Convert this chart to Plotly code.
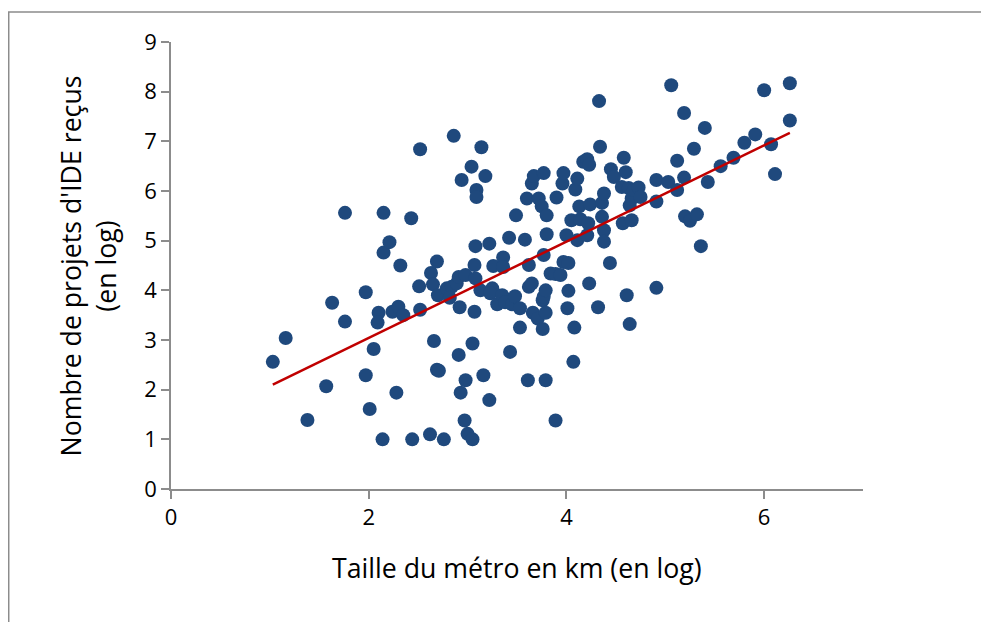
import numpy as np
import plotly.graph_objects as go

# Data
taille_metro = [
    1.03, 1.16, 1.38, 1.57, 1.63, 1.76, 1.76, 1.97, 1.97, 2.01,
    2.05, 2.10, 2.09, 2.14, 2.15, 2.15, 2.21, 2.28, 2.24, 2.30,
    2.35, 2.32, 2.43, 2.52, 2.51, 2.52, 2.44, 2.62, 2.63, 2.65,
    2.69, 2.70, 2.66, 2.69, 2.71, 2.76, 2.79, 2.84, 2.82, 2.86,
    2.89, 2.91, 2.92, 2.91, 2.93, 2.94, 2.97, 2.98, 2.98, 3.00,
    3.04, 3.05, 3.05, 3.07, 3.07, 3.08, 3.08, 3.09, 3.09, 3.13,
    3.14, 3.16, 3.18, 3.22, 3.22, 3.25, 3.23, 3.26, 3.30, 3.35,
    3.36, 3.36, 3.38, 3.42, 3.43, 3.45, 3.48, 3.49, 3.53, 3.53,
    3.58, 3.60, 3.61, 3.62, 3.62, 3.65, 3.65, 3.66, 3.67, 3.71,
    3.72, 3.75, 3.76, 3.76, 3.77, 3.77, 3.77, 3.79, 3.79, 3.79,
    3.80, 3.80, 3.84, 3.89, 3.89, 3.90, 3.94, 3.96, 3.97, 3.97,
    4.00, 4.01, 4.02, 4.02, 4.05, 4.07, 4.08, 4.09, 4.11, 4.11,
    4.13, 4.14, 4.17, 4.21, 4.23, 4.21, 4.22, 4.23, 4.24, 4.32,
    4.33, 4.34, 4.36, 4.36, 4.38, 4.38, 4.38, 4.44, 4.45, 4.48,
    4.56, 4.57, 4.58, 4.60, 4.61, 4.63, 4.64, 4.64, 4.66, 4.66,
    4.68, 4.73, 4.75, 4.91, 4.91, 4.91, 5.03, 5.06, 5.12, 5.12,
    5.19, 5.19, 5.20, 5.25, 5.29, 5.32, 5.36, 5.40, 5.43, 5.56,
    5.69, 5.80, 5.91, 6.00, 6.07, 6.11, 6.26, 6.26,
]
projets_ide = [
    2.56, 3.04, 1.39, 2.07, 3.75, 3.37, 5.56, 3.96, 2.29, 1.61,
    2.82, 3.55, 3.35, 1.00, 5.56, 4.76, 4.97, 1.94, 3.57, 3.67,
    3.50, 4.50, 5.45, 6.84, 4.08, 3.61, 1.00, 1.10, 4.35, 4.12,
    4.58, 3.90, 2.98, 2.40, 2.38, 1.00, 4.04, 4.07, 3.85, 7.11,
    4.14, 4.27, 3.66, 2.70, 1.94, 6.22, 1.38, 4.31, 2.19, 1.11,
    6.49, 2.93, 1.00, 3.57, 4.51, 4.24, 4.89, 6.02, 5.88, 4.00,
    6.88, 2.29, 6.30, 4.94, 1.79, 4.04, 3.94, 4.49, 3.72, 3.90,
    4.66, 4.47, 3.76, 5.06, 2.76, 3.72, 3.88, 5.51, 3.64, 3.25,
    5.02, 5.85, 2.19, 4.51, 4.07, 4.14, 6.15, 3.55, 6.30, 3.43,
    5.85, 5.69, 3.80, 3.22, 6.36, 4.71, 3.87, 4.00, 3.55, 2.19,
    5.51, 5.13, 4.34, 4.33, 1.38, 5.87, 4.31, 6.15, 6.36, 4.57,
    5.11, 3.64, 4.55, 3.99, 5.41, 2.56, 3.25, 6.03, 6.25, 5.01,
    5.69, 5.43, 6.59, 6.64, 6.53, 5.11, 5.35, 4.14, 5.73, 3.66,
    7.81, 6.89, 5.76, 5.48, 5.95, 5.21, 4.98, 4.55, 6.44, 6.28,
    6.08, 5.35, 6.67, 6.38, 3.90, 6.06, 5.71, 3.32, 5.85, 5.41,
    6.02, 6.07, 5.88, 6.22, 5.79, 4.05, 6.18, 8.13, 6.61, 6.02,
    7.57, 6.27, 5.49, 5.40, 6.85, 5.53, 4.89, 7.27, 6.18, 6.50,
    6.67, 6.97, 7.14, 8.03, 6.94, 6.34, 8.17, 7.42,
]
x_ticks = [0, 2, 4, 6]
y_ticks = [0, 1, 2, 3, 4, 5, 6, 7, 8, 9]
x_title = "Taille du métro en km (en log)"
y_title = "Nombre de projets d'IDE reçus<br>(en log)"

# Linear trend line (least squares) computed from the data
slope, intercept = np.polyfit(taille_metro, projets_ide, 1)
x_fit = [min(taille_metro), max(taille_metro)]
y_fit = [slope * v + intercept for v in x_fit]

FONT = "Open Sans"
AXIS_COLOR = "#8c8c8c"

fig = go.Figure()
fig.add_trace(go.Scatter(
    x=taille_metro, y=projets_ide, mode="markers",
    marker=dict(size=14, color="#1f497d", line=dict(width=0)),
    showlegend=False, hoverinfo="x+y",
))
fig.add_trace(go.Scatter(
    x=x_fit, y=y_fit, mode="lines",
    line=dict(color="#c00000", width=2.5),
    showlegend=False, hoverinfo="skip",
))

fig.update_layout(
    width=989, height=622,
    margin=dict(l=163, r=134, t=34, b=141),
    paper_bgcolor="white", plot_bgcolor="white",
    font=dict(family=FONT, size=22, color="black"),
    xaxis=dict(
        range=[0, 7], tickvals=x_ticks, ticktext=[str(v) for v in x_ticks],
        showgrid=False, zeroline=False, showline=True, linecolor=AXIS_COLOR, linewidth=1.5,
        ticks="outside", ticklen=8, tickcolor=AXIS_COLOR, tickwidth=1.5,
        tickfont=dict(family=FONT, size=22, color="black"), automargin=False,
    ),
    yaxis=dict(
        range=[0, 9], tickvals=y_ticks, ticktext=[str(v) for v in y_ticks],
        showgrid=False, zeroline=False, showline=True, linecolor=AXIS_COLOR, linewidth=1.5,
        ticks="outside", ticklen=8, tickcolor=AXIS_COLOR, tickwidth=1.5,
        tickfont=dict(family=FONT, size=22, color="black"), automargin=False,
    ),
    annotations=[
        dict(text=x_title, xref="paper", yref="paper", x=0.5, y=-0.1745,
             xanchor="center", yanchor="middle", showarrow=False,
             font=dict(family=FONT, size=26.7, color="black")),
        dict(text=y_title, xref="paper", yref="paper", x=-0.12, y=0.5,
             xanchor="center", yanchor="middle", showarrow=False, textangle=-90,
             font=dict(family=FONT, size=26.7, color="black")),
    ],
    shapes=[
        dict(type="rect", xref="paper", yref="paper", x0=-0.2345, x1=1.25, y0=-0.4, y1=1.067,
             line=dict(color="#8c8c8c", width=1.5), fillcolor="rgba(0,0,0,0)", layer="below"),
    ],
)

fig.write_html("out.html")
